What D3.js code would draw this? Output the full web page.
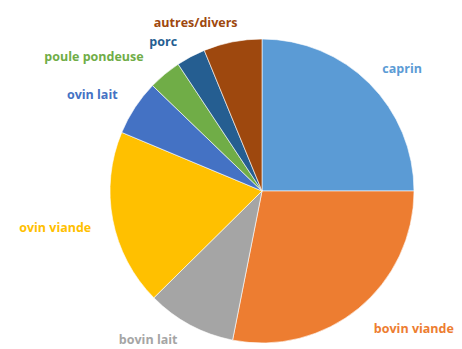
<!DOCTYPE html>
<html>
<head>
<meta charset="utf-8">
<script src="https://cdn.jsdelivr.net/npm/d3@7"></script>
<style>
  html, body { margin: 0; padding: 0; background: #fff; }
  svg { display: block; }
</style>
</head>
<body>
<svg id="chart" width="462" height="349"></svg>
<script>
// Data (shares, %)
const categories = ["caprin", "bovin viande", "bovin lait", "ovin viande", "ovin lait", "poule pondeuse", "porc", "autres/divers"];
const values = [25.0, 28.1, 9.5, 18.7, 5.9, 3.5, 3.1, 6.2];
const colors = ["#5B9BD5", "#ED7D31", "#A5A5A5", "#FFC000", "#4472C4", "#70AD47", "#255E91", "#9E480E"];

// Layout: label placement (polar: angle in degrees clockwise from top, distance from centre)
const labelPolar = [[48.9, 186], [132.2, 205], [217.5, 187], [260, 210], [299.5, 195], [308.6, 215], [326.5, 179], [338.5, 181]];

const W = 462, H = 349;
const cx = 262, cy = 191, R = 152;

const svg = d3.select("#chart");
const g = svg.append("g").attr("transform", `translate(${cx},${cy})`);

const data = categories.map((c, i) => ({ cat: c, value: values[i], color: colors[i], lp: labelPolar[i] }));

const pie = d3.pie().value(d => d.value).sort(null);
const arc = d3.arc().innerRadius(0).outerRadius(R);

g.selectAll("path.slice")
  .data(pie(data))
  .join("path")
  .attr("class", "slice")
  .attr("d", arc)
  .attr("fill", d => d.data.color)
  .attr("stroke", "#ffffff")
  .attr("stroke-width", 0.6);

g.selectAll("text.lbl")
  .data(data)
  .join("text")
  .attr("class", "lbl")
  .attr("x", d => d.lp[1] * Math.sin(d.lp[0] * Math.PI / 180))
  .attr("y", d => -d.lp[1] * Math.cos(d.lp[0] * Math.PI / 180))
  .attr("text-anchor", "middle")
  .attr("dominant-baseline", "central")
  .attr("font-family", "'Open Sans', sans-serif")
  .attr("font-weight", "bold")
  .attr("font-size", 12.5)
  .attr("fill", d => d.color)
  .text(d => d.cat);
</script>
</body>
</html>
